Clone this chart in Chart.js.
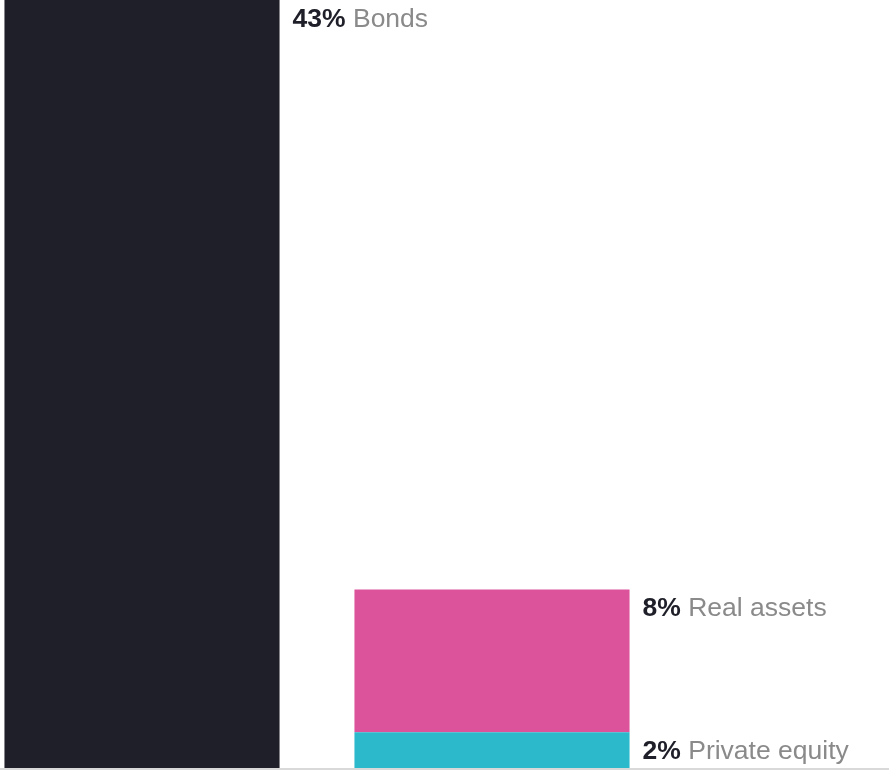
<!DOCTYPE html>
<html>
<head>
<meta charset="utf-8">
<script src="https://cdn.jsdelivr.net/npm/chart.js@4.4.1/dist/chart.umd.min.js"></script>
<style>
  html, body { margin: 0; padding: 0; background: #fff; overflow: hidden; }
  #wrap { position: absolute; left: -33px; top: 0; width: 1050px; height: 770px; }
</style>
</head>
<body>
<div id="wrap"><canvas id="chart"></canvas></div>
<script>
// Portfolio allocation, stacked by asset class
const categories = ['Bonds', 'Alternatives'];
const seriesNames = ['Bonds', 'Private equity', 'Real assets'];
const bondsValues = [43, null];
const privateEquityValues = [null, 2];
const realAssetsValues = [null, 8];
const seriesColors = ['#1f1f2a', '#2bb9cb', '#dc539c'];

const FONT = '"Liberation Sans", Arial, Helvetica, sans-serif';

// Draws "NN% Name" to the right of the top edge of each segment
const segmentLabels = {
    id: 'segmentLabels',
    afterDatasetsDraw(chart) {
        const ctx = chart.ctx;
        ctx.save();
        ctx.textBaseline = 'alphabetic';
        ctx.textAlign = 'left';
        chart.data.datasets.forEach((ds, i) => {
            const meta = chart.getDatasetMeta(i);
            meta.data.forEach((bar, j) => {
                const v = ds.data[j];
                if (v == null) return;
                const x = bar.x + bar.width / 2 + 13;
                const y = bar.y + 27;
                const pct = v + '%';
                ctx.font = 'bold 26.5px ' + FONT;
                ctx.fillStyle = '#1f1f2a';
                ctx.fillText(pct, x, y);
                const w = ctx.measureText(pct + ' ').width;
                ctx.font = '26.5px ' + FONT;
                ctx.fillStyle = '#8a8a8a';
                ctx.fillText(ds.label, x + w, y);
            });
        });
        ctx.restore();
    }
};

// Light baseline under the bars
const baseline = {
    id: 'baseline',
    afterDatasetsDraw(chart) {
        const ctx = chart.ctx;
        ctx.save();
        ctx.fillStyle = '#d9d9d9';
        ctx.fillRect(0, chart.chartArea.bottom, chart.width, 2);
        ctx.restore();
    }
};

new Chart(document.getElementById('chart'), {
    type: 'bar',
    data: {
        labels: categories,
        datasets: [
            { label: seriesNames[0], data: bondsValues, backgroundColor: seriesColors[0] },
            { label: seriesNames[1], data: privateEquityValues, backgroundColor: seriesColors[1] },
            { label: seriesNames[2], data: realAssetsValues, backgroundColor: seriesColors[2] }
        ]
    },
    options: {
        responsive: true,
        maintainAspectRatio: false,
        animation: false,
        layout: { padding: { top: 0, left: 0, right: 350, bottom: 2 } },
        datasets: {
            bar: { categoryPercentage: 1, barPercentage: 0.786, borderWidth: 0 }
        },
        scales: {
            x: { stacked: true, display: false },
            y: { stacked: true, display: false, min: 0, max: 43 }
        },
        plugins: {
            legend: { display: false },
            tooltip: { enabled: false }
        }
    },
    plugins: [segmentLabels, baseline]
});
</script>
</body>
</html>
